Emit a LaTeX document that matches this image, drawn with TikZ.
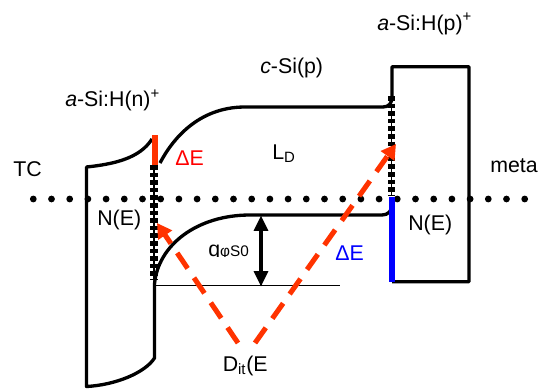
\documentclass[tikz,border=0pt]{standalone}
\usepackage{fontspec}
\setmainfont{Liberation Sans}
\usetikzlibrary{arrows.meta}
\definecolor{dashred}{RGB}{255,51,0}
\definecolor{txtred}{RGB}{255,0,0}
\definecolor{nblue}{RGB}{0,0,255}
\begin{document}
\begin{tikzpicture}[x=0.75pt,y=-0.75pt,
  band/.style={line width=2.5pt, line join=round},
  ladder/.style={line width=5.4pt, dash pattern=on 3.4pt off 2.3pt},
  lbl/.style={anchor=base west, inner sep=0pt, font=\fontsize{16}{19}\selectfont},
  redarrow/.style={dashred, line width=3.8pt, dash pattern=on 14pt off 8.5pt, -{Triangle[length=11pt,width=12pt]}},
  dblarrow/.style={line width=2.3pt, {Triangle[length=11.5pt,width=10.5pt]}-{Triangle[length=11.5pt,width=10.5pt]}},
]
\useasboundingbox (0,0) rectangle (540,390);

% Fermi level dots
\foreach \i in {0,...,27} \fill ({33.3+18.2*\i},199) circle[radius=2.55pt];

% a-Si:H(n)+ box with c-Si valence band
\draw[band] (152,139) .. controls (140,158) and (115,164) .. (86.5,167)
  -- (86.5,386.5) .. controls (115,385) and (145,373) .. (154.5,358)
  -- (154.5,284) .. controls (158,245) and (197,215) .. (250,215)
  -- (382,215) .. controls (388,215) and (392,211) .. (392,205);

% c-Si conduction band and a-Si:H(p)+ box
\draw[band] (160,163) .. controls (172,140) and (198,107) .. (245,107)
  -- (383,107) .. controls (389,107) and (392,103) .. (392,97)
  -- (392,66.7) -- (469,66.7) -- (469,281.7) -- (392,281.7);

% interface state distributions N(E)
\draw[line width=0.8pt] (154,165) -- (154,280);
\draw[ladder] (154,165) -- (154,280);
\draw[line width=0.8pt] (391.5,96) -- (391.5,196);
\draw[ladder] (391.5,96) -- (391.5,196);

% band offsets
\draw[dashred, line width=5pt] (155,135) -- (155,165);
\draw[nblue, line width=4.6pt] (392,197) -- (392,282);

% reference line and band bending arrow
\coordinate (refa) at (155,285.5);
\coordinate (refb) at (340,285.5);
\draw[line width=1.1pt] (refa) -- (refb);
\coordinate (qa) at (261,215.5);
\coordinate (qb) at (261,286.5);
\draw[dblarrow] (qa) -- (qb);

% labels
\node[lbl] (tc) at (13,176.5) {TC};
\node[lbl] (nlabel) at (65,106.5) {\textit{a}-Si:H(n)\textsuperscript{+}};
\node[lbl] (csi) at (260,73.5) {\textit{c}-Si(p)};
\node[lbl] (plabel) at (377,30) {\textit{a}-Si:H(p)\textsuperscript{+}};
\node[lbl] (metal) at (490,172) {meta};
\node[lbl] (nel) at (97,225.5) {N(E)};
\node[lbl] (ner) at (408,230) {N(E)};
\node[lbl, text=txtred] (der) at (175,165) {ΔE};
\node[lbl] (ld) at (272,159.5) {L\textsubscript{D}};
\node[lbl, text=nblue] (deb) at (335,260) {ΔE};
\node[lbl] (dit) at (222.5,371.5) {D\textsubscript{it}(E};
\begin{scope}
  \clip (200,235) rectangle (258,256.5);
  \node[lbl] (qphi) at (208,256) {q{\fontsize{11.5}{11.5}\selectfont φS0}};
\end{scope}

% trap transitions
\coordinate (la0) at (238,343);
\coordinate (la1) at (157,223);
\coordinate (ra0) at (255,343);
\coordinate (ra1) at (396,144);
\draw[redarrow] (la0) -- (la1);
\draw[redarrow] (ra0) -- (ra1);
\end{tikzpicture}
\end{document}
